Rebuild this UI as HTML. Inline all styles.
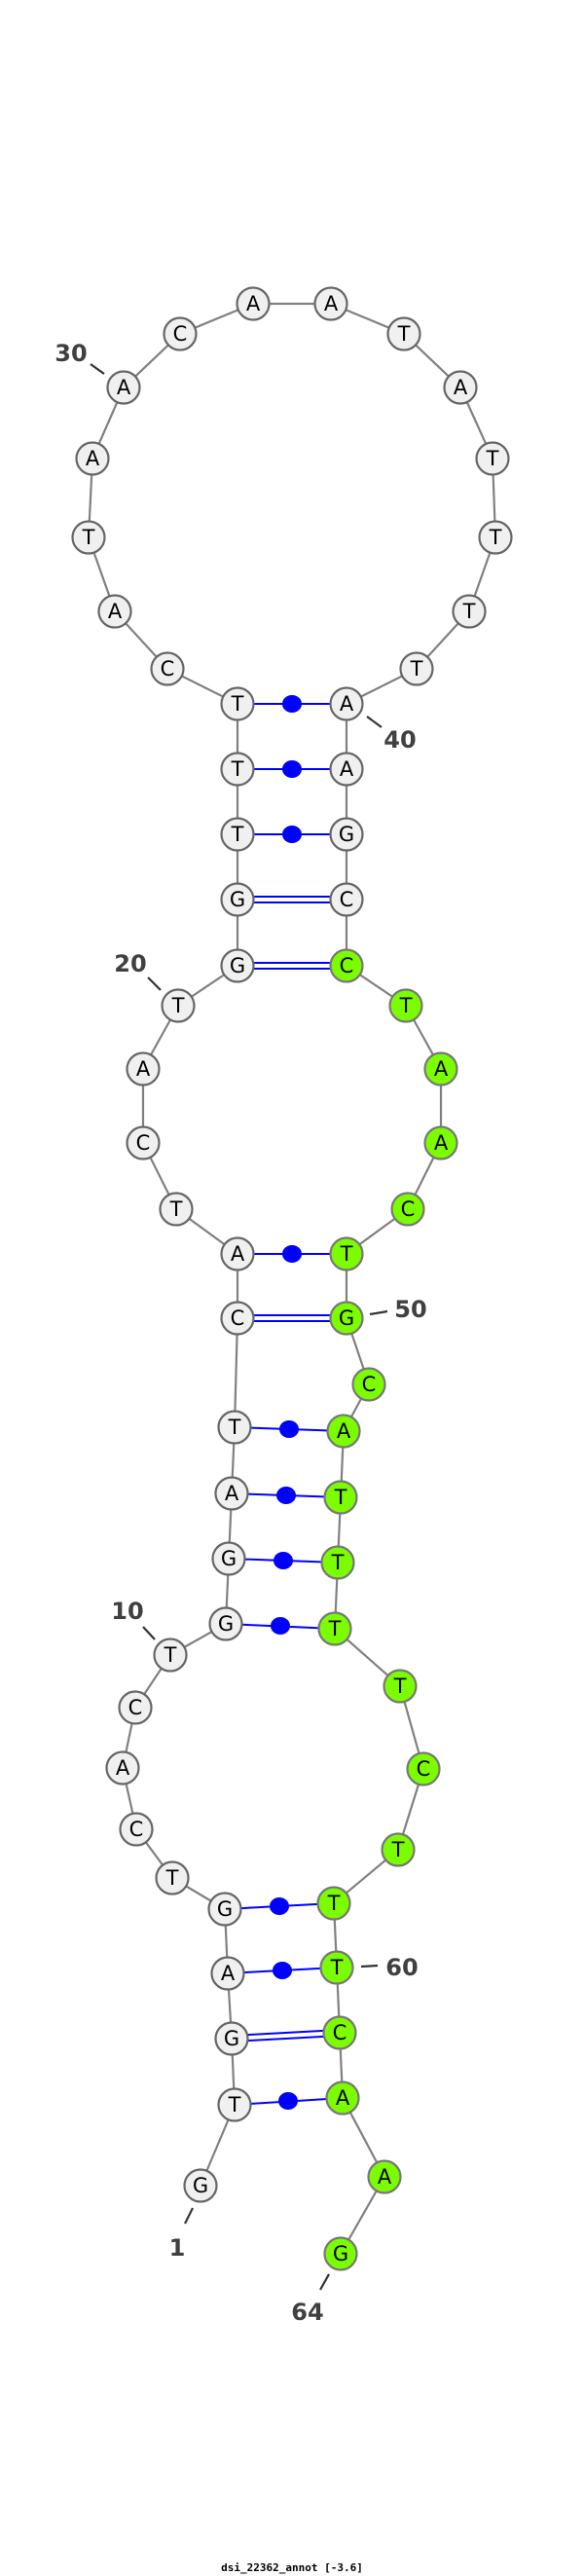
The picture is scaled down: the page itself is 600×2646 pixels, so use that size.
<!DOCTYPE html>
<html><head><meta charset="utf-8"><style>html,body{margin:0;padding:0;background:#fff}svg{display:block}</style></head>
<body>
<svg width="600" height="2646" viewBox="0 0 600 2646" xmlns="http://www.w3.org/2000/svg">
<g stroke="#808080" stroke-width="2.2" fill="none">
<polyline points="206,2245 241,2162 238,2094 234,2027 231,1961 177,1929 140,1879 126,1816 139,1754 175,1700 232,1668 235,1601 238,1534 241,1466 244,1354 244,1288 181,1242 147,1174 147,1098 183,1033 244,992 244,924 244,857 244,790 244,723 172,687 118,628 91,552 95,471 127,398 185,343 260,312 340,312 415,343 473,398 506,471 509,552 482,628 428,687 356,723 356,790 356,857 356,924 356,992 417,1033 453,1098 453,1174 419,1242 356,1288 356,1354 379,1422 353,1470 350,1538 347,1605 344,1673 411,1732 435,1817 409,1900 343,1955 346,2021 349,2088 352,2155 395,2236 350,2315"/>
</g>
<g stroke="#0000ff" stroke-width="2" fill="none">
<line x1="244" y1="723" x2="356" y2="723"/>
<line x1="244" y1="790" x2="356" y2="790"/>
<line x1="244" y1="857" x2="356" y2="857"/>
<line x1="244" y1="921" x2="356" y2="921"/><line x1="244" y1="927" x2="356" y2="927"/>
<line x1="244" y1="989" x2="356" y2="989"/><line x1="244" y1="995" x2="356" y2="995"/>
<line x1="244" y1="1288" x2="356" y2="1288"/>
<line x1="244" y1="1351" x2="356" y2="1351"/><line x1="244" y1="1357" x2="356" y2="1357"/>
<line x1="241" y1="1466" x2="353" y2="1470"/>
<line x1="238" y1="1534" x2="350" y2="1538"/>
<line x1="235" y1="1601" x2="347" y2="1605"/>
<line x1="232" y1="1668" x2="344" y2="1673"/>
<line x1="231" y1="1961" x2="343" y2="1955"/>
<line x1="234" y1="2027" x2="346" y2="2021"/>
<line x1="238" y1="2091" x2="349" y2="2085"/><line x1="238" y1="2097" x2="349" y2="2091"/>
<line x1="241" y1="2162" x2="352" y2="2155"/>
</g>
<g fill="#0000ff">
<ellipse cx="300" cy="723" rx="10" ry="9"/>
<ellipse cx="300" cy="790" rx="10" ry="9"/>
<ellipse cx="300" cy="857" rx="10" ry="9"/>
<ellipse cx="300" cy="1288" rx="10" ry="9"/>
<ellipse cx="297" cy="1468" rx="10" ry="9"/>
<ellipse cx="294" cy="1536" rx="10" ry="9"/>
<ellipse cx="291" cy="1603" rx="10" ry="9"/>
<ellipse cx="288" cy="1670" rx="10" ry="9"/>
<ellipse cx="287" cy="1958" rx="10" ry="9"/>
<ellipse cx="290" cy="2024" rx="10" ry="9"/>
<ellipse cx="296" cy="2158" rx="10" ry="9"/>
</g>
<g stroke="#333" stroke-width="2.2">
<line x1="93" y1="374" x2="107" y2="384"/>
<line x1="377" y1="736" x2="392" y2="747"/>
<line x1="152" y1="1004" x2="165" y2="1017"/>
<line x1="380" y1="1350" x2="398" y2="1347"/>
<line x1="147" y1="1671" x2="159" y2="1684"/>
<line x1="371" y1="2020" x2="388" y2="2019"/>
<line x1="198" y1="2268" x2="190" y2="2284"/>
<line x1="338" y1="2336" x2="329" y2="2352"/>
</g>
<g font-family="'DejaVu Sans','Liberation Sans',sans-serif" font-size="24" font-weight="bold" fill="#404040" text-anchor="middle">
<text x="73" y="371">30</text>
<text x="411" y="768">40</text>
<text x="134" y="998">20</text>
<text x="422" y="1353">50</text>
<text x="131" y="1663">10</text>
<text x="413" y="2029">60</text>
<text x="182" y="2317">1</text>
<text x="316" y="2383">64</text>
</g>
<g stroke="#666" stroke-width="2.2" fill="#f0f0f0">
<circle cx="206" cy="2245" r="16.5"/><circle cx="241" cy="2162" r="16.5"/><circle cx="238" cy="2094" r="16.5"/><circle cx="234" cy="2027" r="16.5"/><circle cx="231" cy="1961" r="16.5"/><circle cx="177" cy="1929" r="16.5"/><circle cx="140" cy="1879" r="16.5"/><circle cx="126" cy="1816" r="16.5"/><circle cx="139" cy="1754" r="16.5"/><circle cx="175" cy="1700" r="16.5"/><circle cx="232" cy="1668" r="16.5"/><circle cx="235" cy="1601" r="16.5"/><circle cx="238" cy="1534" r="16.5"/><circle cx="241" cy="1466" r="16.5"/><circle cx="244" cy="1354" r="16.5"/><circle cx="244" cy="1288" r="16.5"/><circle cx="181" cy="1242" r="16.5"/><circle cx="147" cy="1174" r="16.5"/><circle cx="147" cy="1098" r="16.5"/><circle cx="183" cy="1033" r="16.5"/><circle cx="244" cy="992" r="16.5"/><circle cx="244" cy="924" r="16.5"/><circle cx="244" cy="857" r="16.5"/><circle cx="244" cy="790" r="16.5"/><circle cx="244" cy="723" r="16.5"/><circle cx="172" cy="687" r="16.5"/><circle cx="118" cy="628" r="16.5"/><circle cx="91" cy="552" r="16.5"/><circle cx="95" cy="471" r="16.5"/><circle cx="127" cy="398" r="16.5"/><circle cx="185" cy="343" r="16.5"/><circle cx="260" cy="312" r="16.5"/><circle cx="340" cy="312" r="16.5"/><circle cx="415" cy="343" r="16.5"/><circle cx="473" cy="398" r="16.5"/><circle cx="506" cy="471" r="16.5"/><circle cx="509" cy="552" r="16.5"/><circle cx="482" cy="628" r="16.5"/><circle cx="428" cy="687" r="16.5"/><circle cx="356" cy="723" r="16.5"/><circle cx="356" cy="790" r="16.5"/><circle cx="356" cy="857" r="16.5"/><circle cx="356" cy="924" r="16.5"/>
</g>
<g stroke="#777" stroke-width="2.2" fill="#7cfc00">
<circle cx="356" cy="992" r="16.5"/><circle cx="417" cy="1033" r="16.5"/><circle cx="453" cy="1098" r="16.5"/><circle cx="453" cy="1174" r="16.5"/><circle cx="419" cy="1242" r="16.5"/><circle cx="356" cy="1288" r="16.5"/><circle cx="356" cy="1354" r="16.5"/><circle cx="379" cy="1422" r="16.5"/><circle cx="353" cy="1470" r="16.5"/><circle cx="350" cy="1538" r="16.5"/><circle cx="347" cy="1605" r="16.5"/><circle cx="344" cy="1673" r="16.5"/><circle cx="411" cy="1732" r="16.5"/><circle cx="435" cy="1817" r="16.5"/><circle cx="409" cy="1900" r="16.5"/><circle cx="343" cy="1955" r="16.5"/><circle cx="346" cy="2021" r="16.5"/><circle cx="349" cy="2088" r="16.5"/><circle cx="352" cy="2155" r="16.5"/><circle cx="395" cy="2236" r="16.5"/><circle cx="350" cy="2315" r="16.5"/>
</g>
<g font-family="'DejaVu Sans','Liberation Sans',sans-serif" font-size="21" fill="#000" text-anchor="middle" dominant-baseline="central">
<text x="206" y="2245">G</text><text x="241" y="2162">T</text><text x="238" y="2094">G</text><text x="234" y="2027">A</text><text x="231" y="1961">G</text><text x="177" y="1929">T</text><text x="140" y="1879">C</text><text x="126" y="1816">A</text><text x="139" y="1754">C</text><text x="175" y="1700">T</text><text x="232" y="1668">G</text><text x="235" y="1601">G</text><text x="238" y="1534">A</text><text x="241" y="1466">T</text><text x="244" y="1354">C</text><text x="244" y="1288">A</text><text x="181" y="1242">T</text><text x="147" y="1174">C</text><text x="147" y="1098">A</text><text x="183" y="1033">T</text><text x="244" y="992">G</text><text x="244" y="924">G</text><text x="244" y="857">T</text><text x="244" y="790">T</text><text x="244" y="723">T</text><text x="172" y="687">C</text><text x="118" y="628">A</text><text x="91" y="552">T</text><text x="95" y="471">A</text><text x="127" y="398">A</text><text x="185" y="343">C</text><text x="260" y="312">A</text><text x="340" y="312">A</text><text x="415" y="343">T</text><text x="473" y="398">A</text><text x="506" y="471">T</text><text x="509" y="552">T</text><text x="482" y="628">T</text><text x="428" y="687">T</text><text x="356" y="723">A</text><text x="356" y="790">A</text><text x="356" y="857">G</text><text x="356" y="924">C</text>
<text x="356" y="992">C</text><text x="417" y="1033">T</text><text x="453" y="1098">A</text><text x="453" y="1174">A</text><text x="419" y="1242">C</text><text x="356" y="1288">T</text><text x="356" y="1354">G</text><text x="379" y="1422">C</text><text x="353" y="1470">A</text><text x="350" y="1538">T</text><text x="347" y="1605">T</text><text x="344" y="1673">T</text><text x="411" y="1732">T</text><text x="435" y="1817">C</text><text x="409" y="1900">T</text><text x="343" y="1955">T</text><text x="346" y="2021">T</text><text x="349" y="2088">C</text><text x="352" y="2155">A</text><text x="395" y="2236">A</text><text x="350" y="2315">G</text>
</g>
<text x="300" y="2641" font-family="'DejaVu Sans Mono','Liberation Mono',monospace" font-size="11" font-weight="bold" fill="#000" text-anchor="middle">dsi_22362_annot [-3.6]</text>
</svg>
</body></html>
